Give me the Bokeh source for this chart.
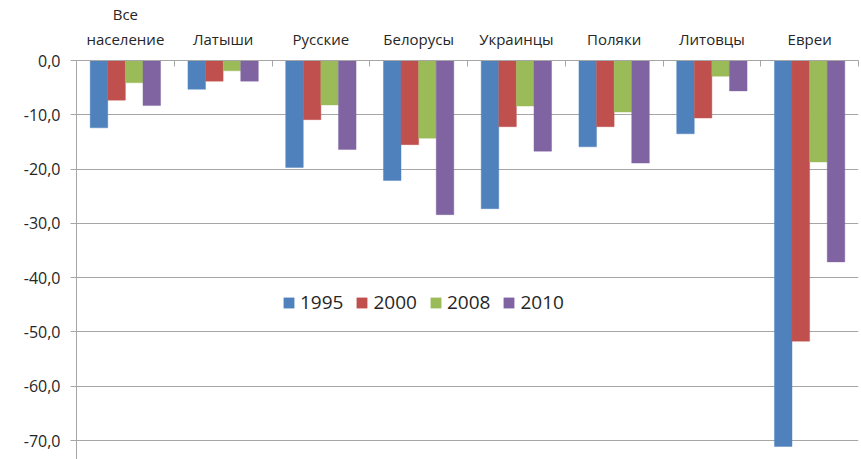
import numpy as np
from bokeh.plotting import figure
from bokeh.models import (ColumnDataSource, LinearAxis, FixedTicker, CustomJSTickFormatter,
                          Range1d, Legend, LegendItem)
from bokeh.embed import file_html
from bokeh.resources import INLINE

categories = ["Все\nнаселение", "Латыши", "Русские", "Белорусы", "Украинцы", "Поляки", "Литовцы", "Евреи"]
years = ["1995", "2000", "2008", "2010"]
v1995 = [-12.4, -5.3, -19.7, -22.1, -27.3, -15.9, -13.5, -71.1]
v2000 = [-7.3, -3.8, -10.9, -15.5, -12.2, -12.2, -10.6, -51.7]
v2008 = [-4.1, -1.9, -8.2, -14.3, -8.4, -9.5, -2.9, -18.7]
v2010 = [-8.3, -3.8, -16.4, -28.4, -16.7, -18.9, -5.6, -37.1]
colors = ["#4F81BD", "#C0504D", "#9BBB59", "#8064A2"]
y_ticks = [0, -10, -20, -30, -40, -50, -60, -70]

FONT = "Open Sans"
TXT = "#262626"
GRID = "#A6A6A6"

n = len(categories)
p = figure(width=861, height=459, output_backend="svg", toolbar_location=None,
           x_range=Range1d(0, n), y_range=Range1d(-73.5, 0),
           x_axis_location=None, y_axis_location=None,
           min_border_left=76, min_border_top=60, min_border_right=3, min_border_bottom=0)
p.outline_line_color = None
p.xgrid.visible = False

# y axis
yax = LinearAxis(ticker=FixedTicker(ticks=y_ticks),
                 formatter=CustomJSTickFormatter(code="return tick.toFixed(1).replace('.', ',');"))
yax.axis_line_color = GRID
yax.major_tick_line_color = GRID
yax.major_tick_out = 6
yax.major_tick_in = 0
yax.minor_tick_line_color = None
yax.minor_tick_out = 0
yax.major_label_text_font = FONT
yax.major_label_text_font_size = "16px"
yax.major_label_text_color = TXT
yax.major_label_standoff = 10
p.add_layout(yax, "left")

# x axis (above), labels at category centres, ticks at boundaries
centers = [i + 0.5 for i in range(n)]
xax = LinearAxis(ticker=FixedTicker(ticks=centers, minor_ticks=list(range(n + 1))))
xax.major_label_overrides = {c: lab for c, lab in zip(centers, categories)}
xax.axis_line_color = GRID
xax.major_tick_line_color = None
xax.major_tick_out = 0
xax.major_tick_in = 0
xax.minor_tick_line_color = GRID
xax.minor_tick_in = 6
xax.minor_tick_out = 0
xax.major_label_text_font = FONT
xax.major_label_text_font_size = "15px"
xax.major_label_text_line_height = 1.25
xax.major_label_text_color = TXT
xax.major_label_standoff = 12
p.add_layout(xax, "above")

p.ygrid.ticker = FixedTicker(ticks=y_ticks)
p.ygrid.grid_line_color = GRID
p.ygrid.grid_line_width = 1

series = [v1995, v2000, v2008, v2010]
offsets = [-0.27, -0.09, 0.09, 0.27]
bw = 0.18
items = []
base_x = np.arange(n) + 0.5
for yr, vals, off, col in zip(years, series, offsets, colors):
    src = ColumnDataSource(dict(x=base_x + off, top=vals))
    r = p.vbar(x="x", top="top", bottom=0, width=bw, source=src,
               fill_color=col, line_color=col, line_alpha=0.4, line_width=1)
    items.append(LegendItem(label=yr, renderers=[r]))

legend = Legend(items=items, orientation="horizontal", location=(206, 144),
                glyph_width=13, glyph_height=13, label_standoff=5, spacing=12,
                padding=0, margin=0, border_line_color=None, background_fill_alpha=0,
                label_text_font=FONT, label_text_font_size="19px", label_text_color=TXT,
                label_height=20)
p.add_layout(legend, "center")

open("out.html", "w").write(file_html(p, INLINE))
